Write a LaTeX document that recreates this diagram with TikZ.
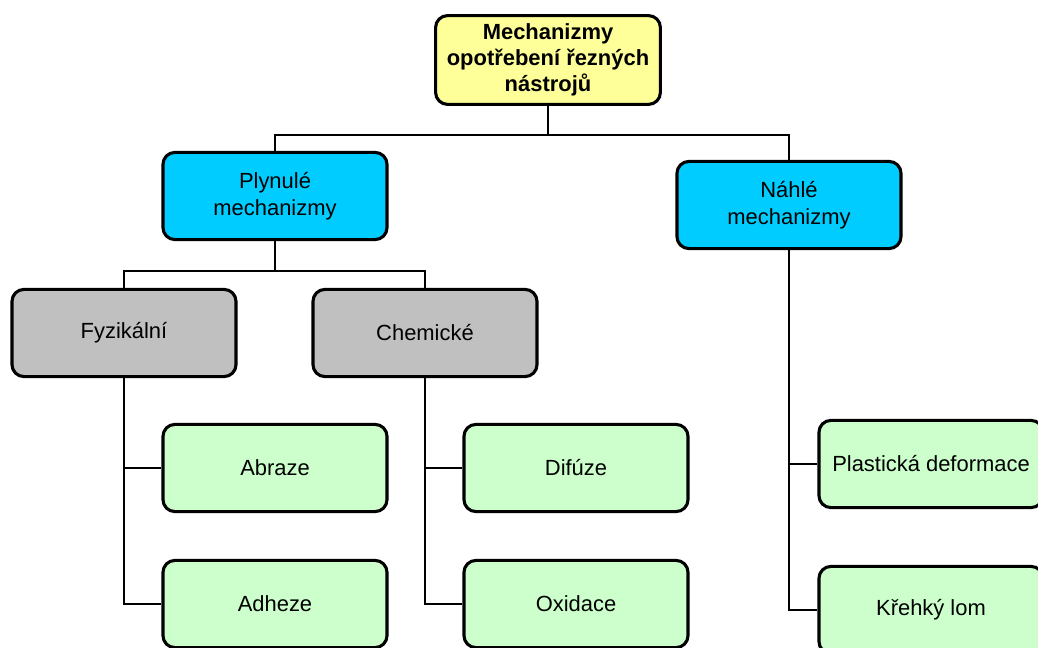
\documentclass[tikz,border=0pt]{standalone}
\usepackage{fontspec}
\setmainfont{Liberation Sans}
\definecolor{rootyellow}{HTML}{FFFF99}
\definecolor{groupcyan}{HTML}{00CCFF}
\definecolor{kindgray}{HTML}{C0C0C0}
\definecolor{leafgreen}{HTML}{CCFFCC}

\begin{document}
\begin{tikzpicture}[x=0.025cm, y=-0.025cm, % pixel grid of the picture
	line width=1.4pt, % connector style
	box/.style={draw, line width=2.2pt, rounded corners=0.3cm,
		minimum width=5.6cm, minimum height=2.18cm, align=center,
		font=\fontsize{15.6}{19}\selectfont},
	root/.style={box, fill=rootyellow, minimum width=5.62cm, minimum height=2.22cm,
		font=\fontsize{15.6}{18.5}\selectfont\bfseries},
	group/.style={box, fill=groupcyan},
	kind/.style={box, fill=kindgray},
	leaf/.style={box, fill=leafgreen}]
	\useasboundingbox (0,0) rectangle (1038,648);
	\node[root] (mech) at (548,60) {Mechanizmy\\opotřebení řezných\\nástrojů};
	\node[group] (plyn) at (275,196) {Plynulé\\mechanizmy};
	\node[group] (nahle) at (789,205) {Náhlé\\mechanizmy};
	\node[kind] (fyz) at (124,333) {Fyzikální};
	\node[kind] (chem) at (425,333) {Chemické};
	\node[leaf] (abraze) at (275,468) {Abraze};
	\node[leaf] (adheze) at (275,604) {Adheze};
	\node[leaf] (difuze) at (576,468) {Difúze};
	\node[leaf] (oxidace) at (576,604) {Oxidace};
	\node[leaf] (plast) at (931,464) {Plastická deformace};
	\node[leaf] (krehky) at (931,610) {Křehký lom};
	% buses
	\coordinate (bus1) at (548,135);
	\coordinate (bus2) at (275,271);
	\draw (mech) -- (bus1);
	\draw (plyn.north) |- (bus1) -| (nahle.north);
	\draw (plyn) -- (bus2);
	\draw (fyz.north) |- (bus2) -| (chem.north);
	% leaves
	\draw (fyz.south) |- (abraze.west);
	\draw (fyz.south) |- (adheze.west);
	\draw (chem.south) |- (difuze.west);
	\draw (chem.south) |- (oxidace.west);
	\draw (nahle.south) |- (plast.west);
	\draw (nahle.south) |- (krehky.west);
\end{tikzpicture}
\end{document}
